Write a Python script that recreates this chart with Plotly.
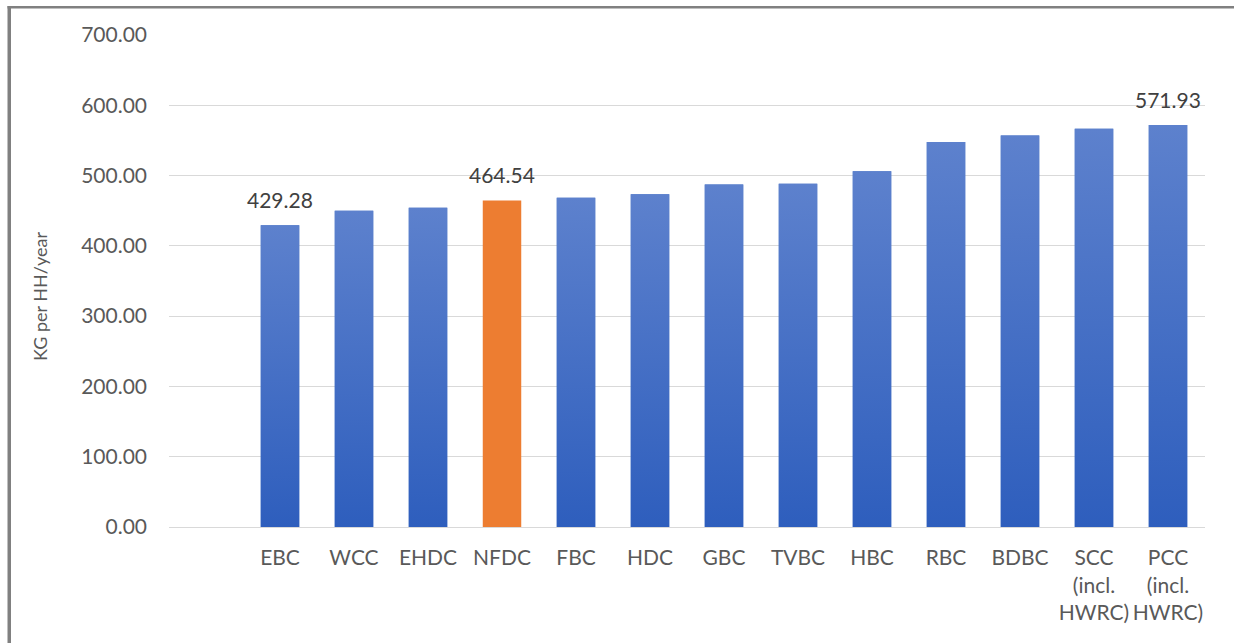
import plotly.graph_objects as go

categories = ["", "EBC", "WCC", "EHDC", "NFDC", "FBC", "HDC", "GBC", "TVBC", "HBC", "RBC",
              "BDBC", "SCC<br>(incl.<br>HWRC)", "PCC<br>(incl.<br>HWRC)"]
values = [None, 429.28, 449.8, 454.2, 464.54, 468.3, 473.6, 487.2, 488.4, 506.3, 547.8,
          556.9, 566.5, 571.93]
labelled = ["EBC", "NFDC", "PCC<br>(incl.<br>HWRC)"]
highlight = "NFDC"
y_ticks = [0, 100, 200, 300, 400, 500, 600, 700]

BLUE_TOP = "#5d81cd"
BLUE_BOTTOM = "#2e5ebd"
BLUE = "#4472C4"
ORANGE = "#ED7D31"
FONT = "Lato"
BAR_W = 0.52

xs = list(range(len(categories)))

fig = go.Figure()
fig.add_trace(go.Bar(
    x=xs, y=values, width=BAR_W,
    marker=dict(color=[ORANGE if c == highlight else BLUE for c in categories], line=dict(width=0)),
    hoverinfo="skip",
))
for xi, c, v in zip(xs, categories, values):
    if v is None or c == highlight:
        continue
    fig.add_trace(go.Scatter(
        x=[xi - BAR_W / 2, xi + BAR_W / 2, xi + BAR_W / 2, xi - BAR_W / 2, xi - BAR_W / 2],
        y=[0, 0, v, v, 0],
        mode="lines", line=dict(width=0), fill="toself",
        fillgradient=dict(type="vertical", colorscale=[[0, BLUE_BOTTOM], [1, BLUE_TOP]]),
        hoverinfo="skip", showlegend=False,
    ))

for xi, c, v in zip(xs, categories, values):
    if v is not None and c in labelled:
        fig.add_annotation(x=xi, y=v, text=f"{v:.2f}", showarrow=False,
                           xanchor="center", yanchor="bottom", yshift=11,
                           font=dict(family=FONT, size=21, color="#404040"))

fig.update_layout(
    width=1234, height=643,
    margin=dict(l=169, r=29, t=35, b=116),
    paper_bgcolor="white", plot_bgcolor="white",
    showlegend=False,
    font=dict(family=FONT, size=21, color="#595959"),
    xaxis=dict(
        range=[-0.5, len(categories) - 0.5],
        tickvals=xs[1:], ticktext=categories[1:],
        showgrid=False, zeroline=False, showline=True, linecolor="#d9d9d9", linewidth=1,
        ticks="", ticklabelstandoff=12,
        tickfont=dict(family=FONT, size=21, color="#595959"),
        fixedrange=True,
    ),
    yaxis=dict(
        range=[0, 700], tickvals=y_ticks, ticktext=[f"{t:.2f}" for t in y_ticks],
        showgrid=True, gridcolor="#d9d9d9", gridwidth=1, zeroline=False,
        ticks="", ticklabelstandoff=21,
        tickfont=dict(family=FONT, size=21, color="#595959"),
        fixedrange=True,
    ),
)

W, H = 1036, 492
ML, MT = 169, 35
fig.add_annotation(xref="paper", yref="paper", x=(40 - ML) / W, y=(527 - 297) / H,
                   text="KG per HH/year", textangle=-90, showarrow=False,
                   xanchor="center", yanchor="middle",
                   font=dict(family=FONT, size=18, color="#595959"))


def px_x(p):
    return (p - ML) / W


def px_y(p):
    return 1 + (MT - p) / H


# frame border as thin filled rectangles (top and left edges)
fig.add_shape(type="rect", xref="paper", yref="paper",
              x0=px_x(7.5), x1=px_x(1234), y0=px_y(8.5), y1=px_y(6),
              fillcolor="#808080", line=dict(width=0))
fig.add_shape(type="rect", xref="paper", yref="paper",
              x0=px_x(7.5), x1=px_x(11), y0=px_y(643), y1=px_y(6),
              fillcolor="#808080", line=dict(width=0))

fig.write_html("out.html", config={"displayModeBar": False})
